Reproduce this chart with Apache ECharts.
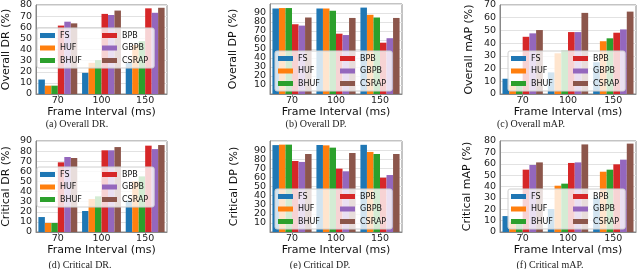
<!DOCTYPE html>
<html><head><meta charset="utf-8">
<script src="https://cdn.jsdelivr.net/npm/echarts@6/dist/echarts.min.js"></script>
<style>html,body{margin:0;padding:0;background:#fff}#c{width:640px;height:269px}</style>
</head><body><div id="c"></div>
<script>
// ---------- data ----------
const categories = ['70', '100', '150'];
const methods = ['FS', 'HUF', 'BHUF', 'BPB', 'GBPB', 'CSRAP'];
// rows: FS, HUF, BHUF, BPB, GBPB, CSRAP ; columns: 70, 100, 150 ms
const overallDR = [
  [13, 19, 28], [7.5, 28, 44], [7.5, 30.5, 47.5],
  [61.5, 72, 77], [65, 71, 73], [63.5, 75, 77.5]
];
const overallDP = [
  [95, 95, 96], [95.5, 95, 88], [95.5, 92.5, 85],
  [77.5, 67, 57], [76, 65.5, 62], [85, 84.5, 84.5]
];
const overallMAP = [
  [12, 17, 25], [7, 32, 41.5], [7.5, 34, 43.8],
  [45, 48.7, 48.2], [47.7, 48.7, 50.8], [50.3, 63.8, 64.8]
];
const criticalDR = [
  [14.8, 20.8, 31.3], [8.9, 32.6, 50], [8.9, 35.3, 55],
  [68.9, 80.8, 85.4], [74.2, 80.8, 82], [73.2, 84, 86]
];
const criticalDP = [
  [95.5, 95.6, 95.8], [96, 95.2, 88], [96, 92.7, 85.7],
  [78, 69.6, 59.7], [77, 66.7, 62.6], [85.7, 86.8, 85.7]
];
const criticalMAP = [
  [14, 20.2, 30.2], [9, 40.7, 53], [9.5, 42.5, 54.8],
  [54.8, 60.7, 59.5], [58.9, 61.2, 63.6], [61.2, 77, 77.7]
];
const yMaxes = [80, 100, 70, 90, 100, 80];
const yNames = ['Overall DR (%)', 'Overall DP (%)', 'Overall mAP (%)',
                'Critical DR (%)', 'Critical DP (%)', 'Critical mAP (%)'];
const xName = 'Frame Interval (ms)';
const captions = ['(a) Overall DR.', '(b) Overall DP.', '(c) Overall mAP.',
                  '(d) Critical DR.', '(e) Critical DP.', '(f) Critical mAP.'];

// ---------- style / layout ----------
const datasets = [overallDR, overallDP, overallMAP, criticalDR, criticalDP, criticalMAP];
const colors = ['#1f77b4', '#ff7f0e', '#2ca02c', '#d62728', '#9467bd', '#8c564b'];
const FONT = 'DejaVu Sans';
const grids = [
  {left: 28, top: 3, width: 139, height: 91},
  {left: 270, top: 4, width: 132, height: 90},
  {left: 500, top: 4, width: 136, height: 90},
  {left: 28, top: 141, width: 139, height: 91},
  {left: 270, top: 141, width: 132, height: 91},
  {left: 500, top: 141, width: 136, height: 91}
];
const yNameGaps = [16, 23, 17, 16, 22, 19];
const legendPos = [[37, 28], [275, 51], [508, 51], [37, 167], [275, 189], [508, 189]];
const captionPos = [[77, 119], [316, 119], [531, 119], [80, 260], [320, 260], [550, 260]];

const option = {
  animation: false,
  grid: grids.map(g => Object.assign({show: true, borderColor: '#888', borderWidth: 1, backgroundColor: 'transparent'}, g)),
  xAxis: grids.map((g, k) => ({
    type: 'category', gridIndex: k, data: categories,
    name: xName, nameLocation: 'middle', nameGap: 12,
    nameTextStyle: {fontFamily: FONT, fontSize: 11, color: '#111'},
    axisLine: {lineStyle: {color: '#888'}},
    axisTick: {show: true, alignWithLabel: true, length: 3, lineStyle: {color: '#888'}},
    axisLabel: {fontFamily: FONT, fontSize: 9.5, color: '#222', margin: 2},
    splitLine: {show: false}
  })),
  yAxis: grids.map((g, k) => ({
    type: 'value', gridIndex: k, min: 0, max: yMaxes[k], interval: 10,
    name: yNames[k], nameLocation: 'middle', nameGap: yNameGaps[k] + 8,
    nameTextStyle: {fontFamily: FONT, fontSize: 11, color: '#111'},
    axisLine: {show: true, lineStyle: {color: '#888'}},
    axisTick: {show: false},
    axisLabel: {fontFamily: FONT, fontSize: 9.5, color: '#222', margin: 4},
    splitLine: {show: true, lineStyle: {color: '#e2e2e2', width: 1}}
  })),
  legend: legendPos.map(p => ({
    left: p[0], top: p[1], orient: 'vertical', height: 36,
    itemWidth: 15, itemHeight: 5, itemGap: 2.5, icon: 'rect',
    padding: [2.5, 6, 2.5, 3],
    backgroundColor: 'rgba(255,255,255,0.8)', borderColor: '#d0d0d0', borderWidth: 1, borderRadius: 2,
    textStyle: {fontFamily: FONT, fontSize: 8, color: '#111', lineHeight: 10},
    data: methods.map((m, i) => i < 3 ? {name: m, textStyle: {width: 39.5}} : {name: m})
  })),
  title: captions.map((c, k) => ({
    text: c, left: captionPos[k][0], top: captionPos[k][1], textAlign: 'center', padding: 0,
    textStyle: {fontFamily: 'Liberation Serif', fontSize: 10, fontWeight: 'normal', color: '#222'}
  })),
  series: []
};
datasets.forEach((ds, k) => {
  ds.forEach((vals, m) => {
    option.series.push({
      type: 'bar', name: methods[m], xAxisIndex: k, yAxisIndex: k,
      data: vals, barGap: '0%', barCategoryGap: '11%',
      itemStyle: {color: colors[m]}
    });
  });
});
const chart = echarts.init(document.getElementById('c'), null, {renderer: 'canvas'});
chart.setOption(option);
</script>
</body></html>
